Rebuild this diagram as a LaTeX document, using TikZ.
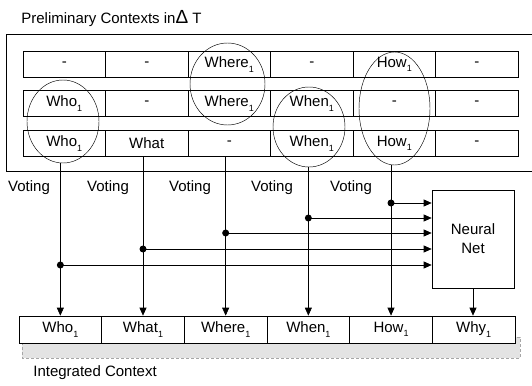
\documentclass[tikz,border=0pt]{standalone}
\usepackage{fontspec}
\setmainfont{Liberation Sans}
\usetikzlibrary{arrows.meta,shapes.geometric}
\newcommand\ssub[1]{\raisebox{-0.55ex}{\fontsize{9}{9}\selectfont #1}}
\begin{document}
\begin{tikzpicture}[x=1pt,y=-1pt,
  font=\fontsize{15}{19}\selectfont,
  line width=0.7pt,
  cell/.style={draw, fill=white, minimum width=82.5pt, minimum height=26pt, inner sep=0pt},
  bcell/.style={draw, fill=white, minimum width=82.67pt, minimum height=27pt, inner sep=0pt},
  oval/.style={draw, ellipse, line width=0.45pt, inner sep=0pt},
  arr/.style={-{Triangle[length=8pt,width=7pt]}}]
\useasboundingbox (0,0) rectangle (532,385);

% title
\node[anchor=west, inner sep=0pt] (title) at (21,19) {Preliminary Contexts in{\fontsize{19}{19}\selectfont Δ} T};

% outer frame
\draw (532,34) -- (6,34) -- (6,171) -- (532,171);

% preliminary rows
\foreach \t [count=\i] in {-,-,{Where\ssub{1}},-,{How\ssub{1}},-}
  \node[cell] (p1c\i) at ({64.25+82.5*(\i-1)},64.5) {\t};
\foreach \t [count=\i] in {{Who\ssub{1}},-,{Where\ssub{1}},{When\ssub{1}},-,-}
  \node[cell] (p2c\i) at ({64.25+82.5*(\i-1)},103.5) {\t};
\foreach \t [count=\i] in {{Who\ssub{1}},What,-,{When\ssub{1}},{How\ssub{1}},-}
  \node[cell] (p3c\i) at ({64.25+82.5*(\i-1)},143.5) {\t};

% ellipses
\node[oval, minimum width=72pt, minimum height=83pt] (eWho) at (63,121.5) {};
\node[oval, minimum width=75pt, minimum height=82pt] (eWhere) at (227.5,84) {};
\node[oval, minimum width=72pt, minimum height=80pt] (eWhen) at (309,127) {};
\node[oval, minimum width=71pt, minimum height=113pt] (eHow) at (394.5,108.5) {};

% voting labels
\foreach \x [count=\i] in {29,108,190,272,351}
  \node (v\i) at (\x,188) {Voting};

% shadow of integrated context
\draw[densely dashed, line width=0.4pt, gray!70, fill=gray!22] (22,337) rectangle (520,358);

% integrated context row
\foreach \t [count=\i] in {{Who\ssub{1}},{What\ssub{1}},{Where\ssub{1}},{When\ssub{1}},{How\ssub{1}},{Why\ssub{1}}}
  \node[bcell] (b\i) at ({19+82.67*(\i-0.5)},329.5) {\t};
\node[anchor=west, inner sep=0pt] (ic) at (33,373) {Integrated Context};

% neural net
\node[draw, minimum width=82pt, minimum height=98pt, align=center, inner sep=0pt] (nn) at (473,239) {Neural\\Net};

% junction points
\coordinate (dWho) at (b1 |- 0,265);
\coordinate (dWhat) at (b2 |- 0,249);
\coordinate (dWhere) at (b3 |- 0,233);
\coordinate (dWhen) at (b4 |- 0,218);
\coordinate (dHow) at (b5 |- 0,203);

% vertical connectors
\draw[arr] (b1 |- eWho.south) -- (b1.north);
\draw[arr] (b2 |- p3c2.south) -- (b2.north);
\draw[arr] (b3 |- p3c3.south) -- (b3.north);
\draw[arr] (b4 |- eWhen.south) -- (b4.north);
\draw[arr] (b5 |- eHow.south) -- (b5.north);
\draw[arr] (nn.south) -- (nn.south |- b6.north);

% branches to neural net
\foreach \d in {dWho,dWhat,dWhere,dWhen,dHow}{
  \draw[arr] (\d) -- (\d -| nn.west);
  \fill (\d) circle[radius=3.5pt];
}
\end{tikzpicture}
\end{document}
